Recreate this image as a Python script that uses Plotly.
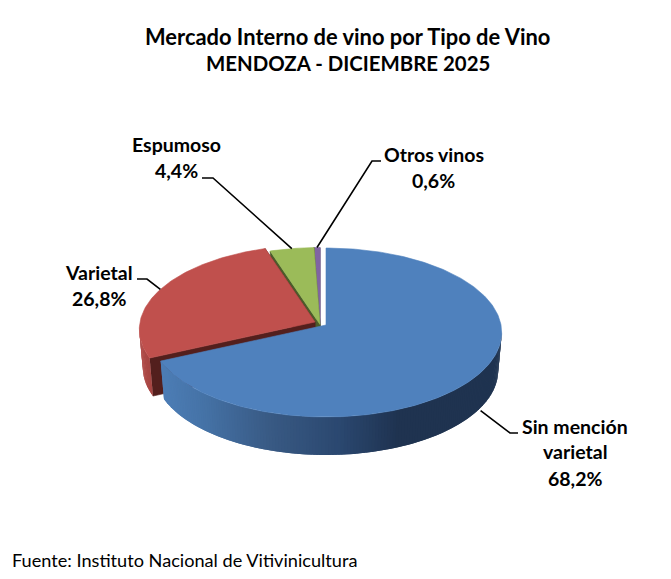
import numpy as np
import plotly.graph_objects as go

# datos
categorias = ["Sin mención varietal", "Varietal", "Espumoso", "Otros vinos"]
valores = [68.2, 26.8, 4.4, 0.6]
etiquetas = ["68,2%", "26,8%", "4,4%", "0,6%"]
titulo = ["Mercado Interno de vino por Tipo de Vino", "MENDOZA - DICIEMBRE 2025"]
fuente = "Fuente: Instituto Nacional de Vitivinicultura"

FONT = "Lato"
W, H = 671, 579

# geometria de la torta: perspectiva simple
BX, AY, K, DEPTH = 175, 83.8, 0.0888, 38
ESCALA_BASE = 0.98  # la base se ve un poco mas angosta
centros = [(326, 325), (315, 322), (320, 324.5), (320, 324.5)]
colores_top = ["#4F81BD", "#C0504D", "#9BBB59", "#8064A2"]
colores_corte = ["#2c4a70", "#531f1d", "#4c5c2a", "#40305a"]
# degrade de la pared exterior, por x
paredes = [
    ([163, 200, 270, 340, 400, 502], ["#4d7db5", "#4674a8", "#395a84", "#2b4870", "#1f3350", "#1f3350"]),
    ([139, 153], ["#b04a47", "#a34441"]),
    ([270, 320], ["#5f7436", "#4c5c2a"]),
    ([314, 320], ["#40305a", "#40305a"]),
]


def proyectar(theta, centro, escala=1.0):
    v = np.cos(theta)
    den = 1 + K * v
    return centro[0] + escala * BX * np.sin(theta) / den, centro[1] - AY * v / den


def a_rgb(c):
    return np.array([int(c[i:i + 2], 16) for i in (1, 3, 5)], dtype=float)


def color_pared(x, xs, cs):
    rgb = [np.interp(x, xs, [a_rgb(c)[i] for c in cs]) for i in range(3)]
    return "rgb(%d,%d,%d)" % tuple(rgb)


def poligono(fig, x, y, color, borde=0.6):
    fig.add_trace(go.Scatter(x=x, y=y, mode="lines", fill="toself", fillcolor=color,
                             line=dict(color=color, width=borde), hoverinfo="skip", showlegend=False))


fig = go.Figure()

# angulos de cada porcion a partir de los valores
bordes = np.radians(np.cumsum([0] + valores) / sum(valores) * 360)

# de atras hacia adelante: otros, espumoso, varietal, sin mencion
for idx in [3, 2, 1, 0]:
    ini, fin = bordes[idx], bordes[idx + 1]
    c = centros[idx]
    th = np.linspace(ini, fin, max(8, int((fin - ini) * 60)))

    # caras de corte de las porciones separadas
    if idx != 0:
        for ang in (fin, ini):
            xt, yt = proyectar(ang, c)
            xb, yb = proyectar(ang, c, ESCALA_BASE)
            poligono(fig, [c[0], xt, xb, c[0], c[0]], [c[1], yt, yb + DEPTH, c[1] + DEPTH, c[1]], colores_corte[idx])

    # pared exterior en tiras solapadas, solo la mitad que mira al frente
    xs, ys = proyectar(th, c)
    xb, yb = proyectar(th, c, ESCALA_BASE)
    visibles = np.cos(th) < -K * 0.9
    px, pc = paredes[idx]
    for n in range(len(th) - 1):
        if visibles[n] or visibles[n + 1]:
            m = min(n + 2, len(th) - 1)
            color = color_pared((xs[n] + xs[n + 1]) / 2, px, pc)
            poligono(fig, [xs[n], xs[m], xb[m], xb[n], xs[n]],
                     [ys[n], ys[m], yb[m] + DEPTH, yb[n] + DEPTH, ys[n]], color, borde=0)

    # cara superior
    poligono(fig, [c[0]] + list(xs) + [c[0]], [c[1]] + list(ys) + [c[1]], colores_top[idx])

# lineas guia: salen del borde de cada porcion, en su angulo medio
codos = [[(510, 433), (518, 433)], [(147, 279), (137, 279)], [(213, 178), (202, 178)], [(372, 161), (381, 161)]]
for idx, codo in enumerate(codos):
    med = (bordes[idx] + bordes[idx + 1]) / 2
    xa, ya = proyectar(med, centros[idx])
    if idx == 0:
        ya += DEPTH
    fig.add_trace(go.Scatter(x=[xa] + [p[0] for p in codo], y=[ya] + [p[1] for p in codo], mode="lines",
                             line=dict(color="black", width=1.6), hoverinfo="skip", showlegend=False))


def texto(x, y, s, size=19.5, bold=True, anchor="center"):
    fig.add_annotation(x=x, y=y, text="<b>%s</b>" % s if bold else s, showarrow=False, xanchor=anchor, yanchor="middle",
                       font=dict(family=FONT, size=size, color="black"))


texto(347.5, 36, titulo[0], size=21.9)
texto(348, 63, titulo[1], size=20.4)
texto(575, 426, "Sin mención")
texto(575, 451, "varietal")
texto(575, 478, etiquetas[0])
texto(99, 272, categorias[1])
texto(99, 298, etiquetas[1])
texto(176, 144, categorias[2])
texto(176, 170, etiquetas[2])
texto(433.5, 154, categorias[3])
texto(433.5, 180, etiquetas[3])
texto(10, 560, fuente, size=18.15, bold=False, anchor="left")

fig.update_layout(
    width=W, height=H,
    margin=dict(l=0, r=0, t=0, b=0),
    paper_bgcolor="white", plot_bgcolor="white",
    xaxis=dict(range=[0, W], visible=False, fixedrange=True),
    yaxis=dict(range=[H, 0], visible=False, fixedrange=True),
)

fig.write_html("out.html", config=dict(displayModeBar=False),
               post_script="document.body.style.margin='0';document.body.style.overflow='hidden';")
